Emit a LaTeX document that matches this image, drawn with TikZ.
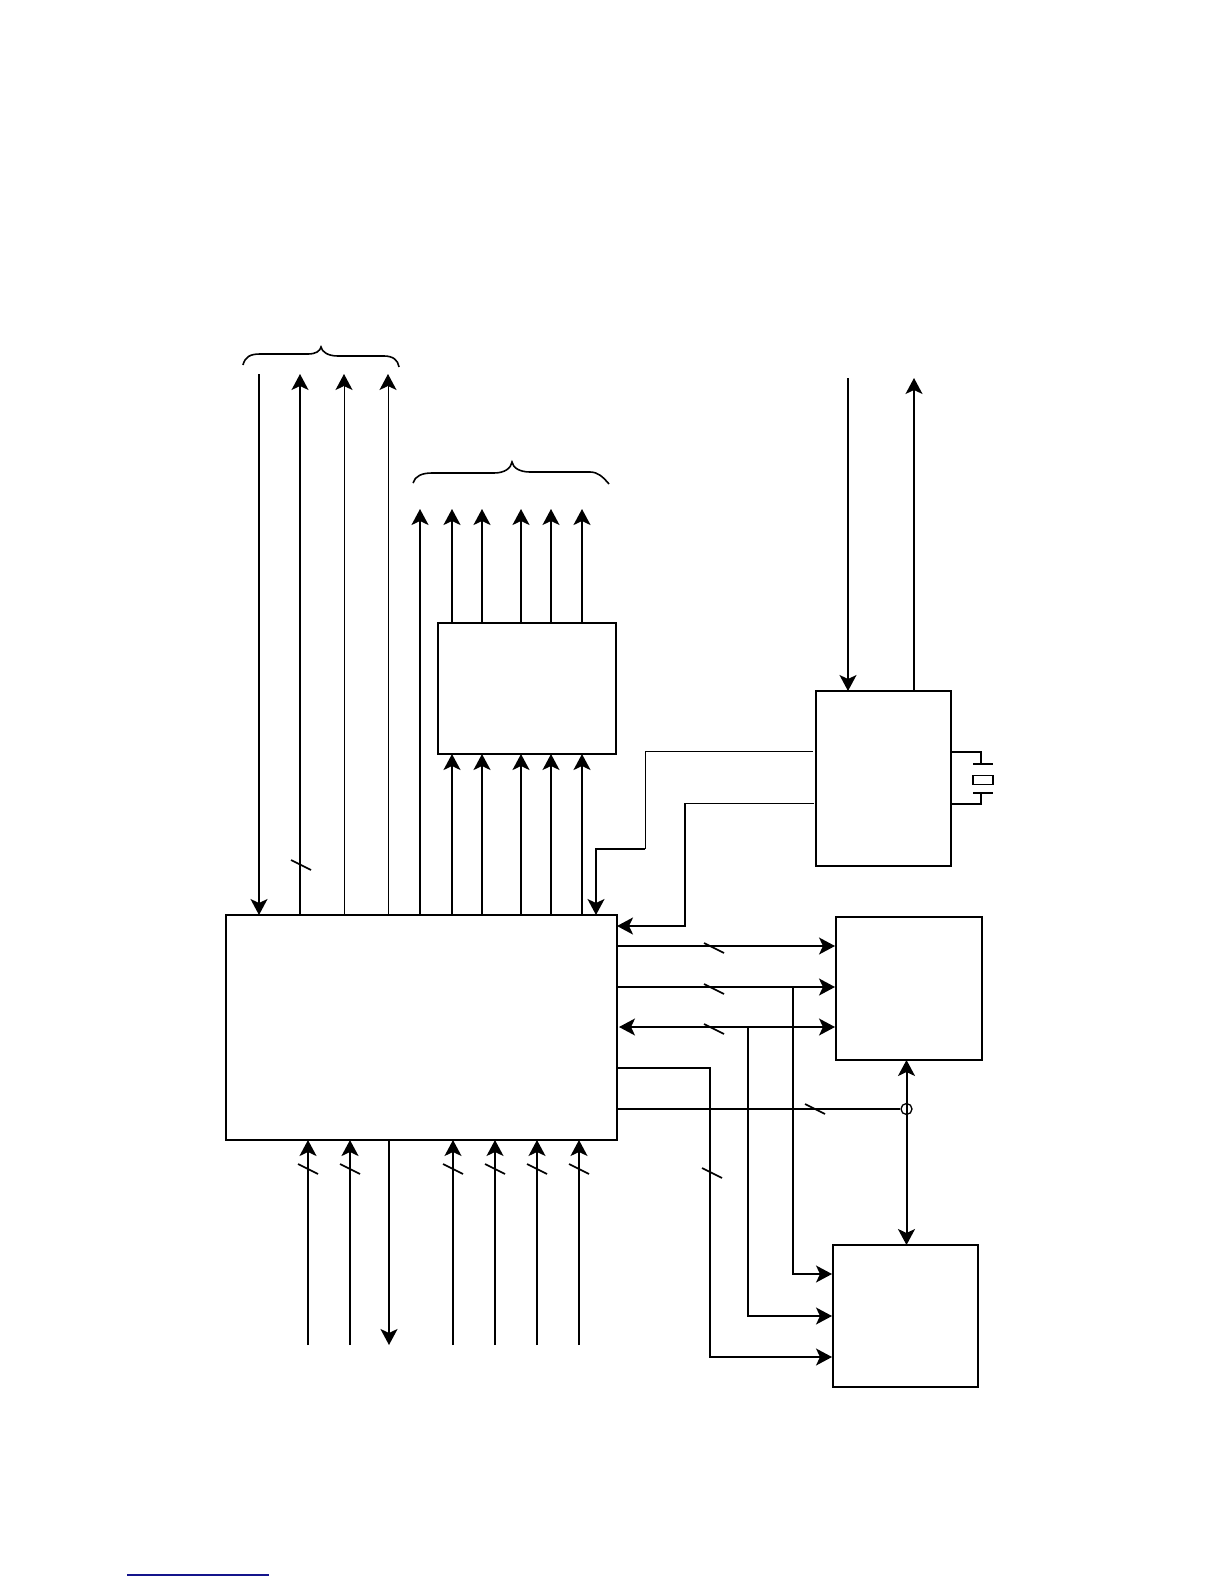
\documentclass[tikz,border=0pt]{standalone}
\usetikzlibrary{arrows.meta}
\definecolor{rule}{HTML}{14148C}

\begin{document}
\begin{tikzpicture}[
  x=0.5pt, y=-0.5pt,
  block/.style={draw, line width=0.8pt, inner sep=0pt, outer sep=0pt},
  wire/.style={line width=0.65pt},
  bus/.style={line width=1pt},
  arr/.style={-{Stealth[length=8pt, width=8.5pt, inset=2pt]}},
  dbl/.style={{Stealth[length=8pt, width=8.5pt, inset=2pt]}-{Stealth[length=8pt, width=8.5pt, inset=2pt]}},
  slash/.style={line width=0.8pt},
]
  \useasboundingbox (0,0) rectangle (1224,1584);

  % Blocks
  \node[block, minimum width=195.5pt, minimum height=112.5pt] (main) at (421.5,1027.5) {};
  \node[block, minimum width=89pt, minimum height=65.5pt] (mem) at (527,688.5) {};
  \node[block, minimum width=67.5pt, minimum height=87.5pt] (clock) at (883.5,778.5) {};
  \node[block, minimum width=73pt, minimum height=71.5pt] (upper) at (909,988.5) {};
  \node[block, line width=0.6pt, minimum width=72.5pt, minimum height=71pt] (lower) at (905.5,1316) {};
  \node[draw, circle, wire, inner sep=0pt, minimum size=5.5pt] (jn) at (906.5,1109) {};

  % Free ends
  \coordinate (ta) at (259,374);
  \coordinate (tb) at (300,374);
  \coordinate (tc) at (344,374);
  \coordinate (td) at (388,374);
  \coordinate (ua) at (420,509);
  \coordinate (ub) at (452,509);
  \coordinate (uc) at (482,509);
  \coordinate (ud) at (521,509);
  \coordinate (ue) at (551,509);
  \coordinate (uf) at (582,509);
  \coordinate (ck) at (848,378);
  \coordinate (cl) at (914,378);
  \coordinate (ba) at (308,1345);
  \coordinate (bb) at (350,1345);
  \coordinate (bc) at (389,1345);
  \coordinate (bd) at (453,1345);
  \coordinate (be) at (495,1345);
  \coordinate (bf) at (537,1345);
  \coordinate (bg) at (579,1345);

  % Top left group
  \draw[arr, wire] (ta) -- (ta |- main.north);
  \draw[arr, wire] (tb |- main.north) -- (tb);
  \draw[arr, line width=0.5pt] (tc |- main.north) -- (tc);
  \draw[arr, line width=0.5pt] (td |- main.north) -- (td);
  \draw[slash] (301,865) ++(-10,-5) -- ++(20,10);

  % Second group, through the upper middle block
  \draw[arr, bus] (ua |- main.north) -- (ua);
  \draw[arr, bus] (ub |- main.north) -- (ub |- mem.south);
  \draw[arr, bus] (uc |- main.north) -- (uc |- mem.south);
  \draw[arr, bus] (ud |- main.north) -- (ud |- mem.south);
  \draw[arr, wire] (ue |- main.north) -- (ue |- mem.south);
  \draw[arr, bus] (uf |- main.north) -- (uf |- mem.south);
  \draw[arr, bus] (ub |- mem.north) -- (ub);
  \draw[arr, bus] (uc |- mem.north) -- (uc);
  \draw[arr, bus] (ud |- mem.north) -- (ud);
  \draw[arr, wire] (ue |- mem.north) -- (ue);
  \draw[arr, bus] (uf |- mem.north) -- (uf);

  % Braces
  \draw[line width=0.8pt] (243,365) .. controls (245,357) and (250,354) .. (260,354)
    -- (308,354) .. controls (316,354) and (320,351) .. (321,347)
    .. controls (322,352) and (328,356) .. (338,356)
    -- (384,356) .. controls (393,356) and (398,360) .. (399,367);
  \draw[line width=0.8pt] (413,483) .. controls (415,476) and (422,473) .. (432,473)
    -- (494,473) .. controls (505,473) and (511,468) .. (512,462)
    .. controls (513,468) and (520,472) .. (530,472)
    -- (590,472) .. controls (598,472) and (603,477) .. (609,484);

  % Clock block
  \draw[arr, wire] (ck) -- (ck |- clock.north);
  \draw[arr, wire] (cl |- clock.north) -- (cl);
  \coordinate (clka) at (813,751);
  \coordinate (clkb) at (814,803);
  \coordinate (clkc) at (596,849);
  \coordinate (clkd) at (685,926);
  \coordinate (clke) at (645,849);
  \draw[line width=0.5pt] (clka) -| (clke);
  \draw[arr, wire] (clke) -- (clkc) -- (clkc |- main.north);
  \draw[line width=0.5pt] (clkb) -- (clkd |- clkb);
  \draw[arr, bus] (clkd |- clkb) -- (clkd) -- (main.east |- clkd);

  % Crystal
  \coordinate (xa) at (981,764);
  \coordinate (xb) at (981,793);
  \node[draw, wire, inner sep=0pt, minimum width=10pt, minimum height=4.5pt] (xtal) at (983,780) {};
  \draw[wire] (clock.east |- 0,752) -| (xa);
  \draw[wire] (clock.east |- 0,804) -| (xb);
  \draw[bus] (973,764) -- (993,764);
  \draw[wire] (973,793) -- (993,793);

  % Right side buses
  \coordinate (ra) at (617,946);
  \coordinate (rb) at (617,987);
  \coordinate (rc) at (617,1027);
  \coordinate (rd) at (617,1068);
  \draw[arr, wire, shorten >=0.5pt] (ra) -- (ra -| upper.west);
  \draw[arr, bus, shorten >=0.5pt] (rb) -- (rb -| upper.west);
  \draw[dbl, wire, shorten >=0.5pt, shorten <=1pt] (rc) -- (rc -| upper.west);
  \draw[slash] (714,948) ++(-10,-5) -- ++(20,10);
  \draw[slash] (714,989) ++(-10,-5) -- ++(20,10);
  \draw[slash] (714,1029) ++(-10,-5) -- ++(20,10);

  % Down to the lower block
  \coordinate (sa) at (793,1274);
  \coordinate (sb) at (748,1316);
  \coordinate (sc) at (710,1357);
  \draw[arr, wire, shorten >=0.5pt] (sa |- rb) -- (sa) -- (sa -| lower.west);
  \draw[arr, wire, shorten >=0.5pt] (sb |- rc) -- (sb) -- (sb -| lower.west);
  \draw[arr, wire, shorten >=0.5pt] (rd) -| (sc) -- (sc -| lower.west);
  \draw[slash] (712,1173) ++(-10,-5) -- ++(20,10);
  \draw[wire] (main.east |- jn) -- (jn);
  \draw[slash] (815,1109) ++(-10,-5) -- ++(20,10);
  \draw[dbl, bus] (jn |- upper.south) -- (jn |- lower.north);

  % Bottom group
  \draw[arr, bus] (ba) -- (ba |- main.south);
  \draw[arr, bus] (bb) -- (bb |- main.south);
  \draw[arr, bus] (bc |- main.south) -- (bc);
  \draw[arr, wire] (bd) -- (bd |- main.south);
  \draw[arr, wire] (be) -- (be |- main.south);
  \draw[arr, wire] (bf) -- (bf |- main.south);
  \draw[arr, wire] (bg) -- (bg |- main.south);
  \draw[slash] (308,1169) ++(-10,-5) -- ++(20,10);
  \draw[slash] (350,1169) ++(-10,-5) -- ++(20,10);
  \draw[slash] (453,1169) ++(-10,-5) -- ++(20,10);
  \draw[slash] (495,1169) ++(-10,-5) -- ++(20,10);
  \draw[slash] (537,1169) ++(-10,-5) -- ++(20,10);
  \draw[slash] (579,1169) ++(-10,-5) -- ++(20,10);

  % Rule at the foot of the page
  \draw[rule, line width=0.7pt] (127,1575) -- (269,1575);
\end{tikzpicture}
\end{document}
